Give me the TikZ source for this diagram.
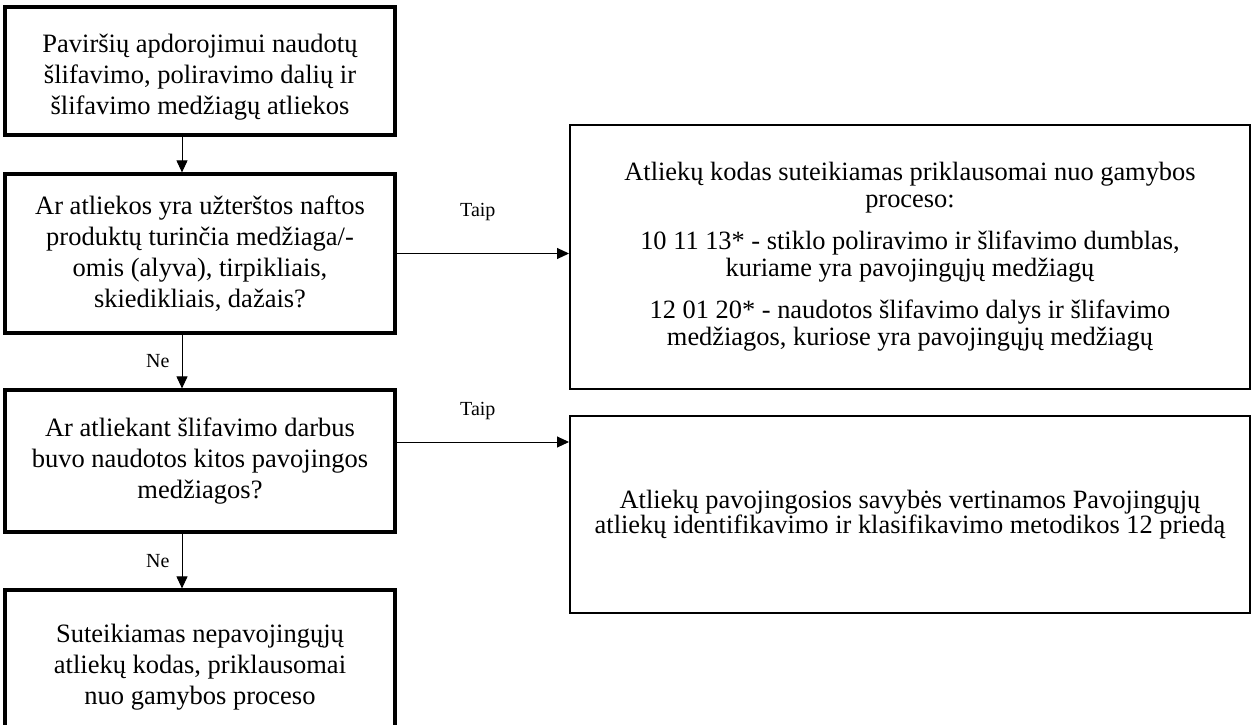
\documentclass[tikz,border=0pt]{standalone}
\usepackage{fontspec}
\setmainfont{Liberation Serif}
\usetikzlibrary{arrows.meta,calc}
\begin{document}
\begin{tikzpicture}[x=1pt,y=-1pt,
  lbox/.style={draw, line width=3.2pt, minimum width=390pt, align=center, inner sep=0pt, font=\fontsize{26.5}{31}\selectfont},
  rbox/.style={draw, line width=2pt, minimum width=680pt, align=center, inner sep=0pt, font=\fontsize{26.4}{27}\selectfont},
  arr/.style={-{Triangle[length=12pt,width=11pt]}, line width=1pt},
  lbl/.style={font=\fontsize{20}{22}\selectfont, inner sep=0pt}]
\clip (0,0) rectangle (1256,725);
\fill[white] (0,0) rectangle (1256,725);

\node[lbox, minimum height=128pt] (b1) at (200,71)
  {\rule{0pt}{30pt}Paviršių apdorojimui naudotų\\ šlifavimo, poliravimo dalių ir\\ šlifavimo medžiagų atliekos};
\node[lbox, minimum height=159pt] (b2) at (200,253.5)
  {Ar atliekos yra užterštos naftos\\ produktų turinčia medžiaga/-\\ omis (alyva), tirpikliais,\\ skiedikliais, dažais?};
\node[lbox, minimum height=142pt] (b3) at (200,461)
  {Ar atliekant šlifavimo darbus\\ buvo naudotos kitos pavojingos\\ medžiagos?};
\node[lbox, minimum height=155pt] (b4) at (200,667.5)
  {Suteikiamas nepavojingųjų\\ atliekų kodas, priklausomai\\ nuo gamybos proceso};

\node[rbox, minimum height=264pt] (r1) at (910,257)
  {Atliekų kodas suteikiamas priklausomai nuo gamybos\\ proceso:\\[15pt]
   10 11 13* - stiklo poliravimo ir šlifavimo dumblas,\\ kuriame yra pavojingųjų medžiagų\\[15pt]
   12 01 20* - naudotos šlifavimo dalys ir šlifavimo\\ medžiagos, kuriose yra pavojingųjų medžiagų};
\node[rbox, minimum height=197pt, font=\fontsize{26.4}{25}\selectfont] (r2) at (910,514.5)
  {Atliekų pavojingosios savybės vertinamos Pavojingųjų\\ atliekų identifikavimo ir klasifikavimo metodikos 12 priedą};

\draw[arr] ([xshift=-18pt]b1.south) -- ([xshift=-18pt]b2.north);
\draw[arr] ([xshift=-18pt]b2.south) -- node[lbl, left=12pt] {Ne} ([xshift=-18pt]b3.north);
\draw[arr] ([xshift=-18pt]b3.south) -- node[lbl, left=12pt] {Ne} ([xshift=-18pt]b4.north);

\draw[arr] (b2.east) -- node[lbl, above=32pt, xshift=-5pt] {Taip} (b2.east -| r1.west);
\draw[arr] ([yshift=19pt]b3.east) -- node[lbl, above=22pt, xshift=-5pt] {Taip} ([yshift=19pt]b3.east -| r2.west);
\end{tikzpicture}
\end{document}
